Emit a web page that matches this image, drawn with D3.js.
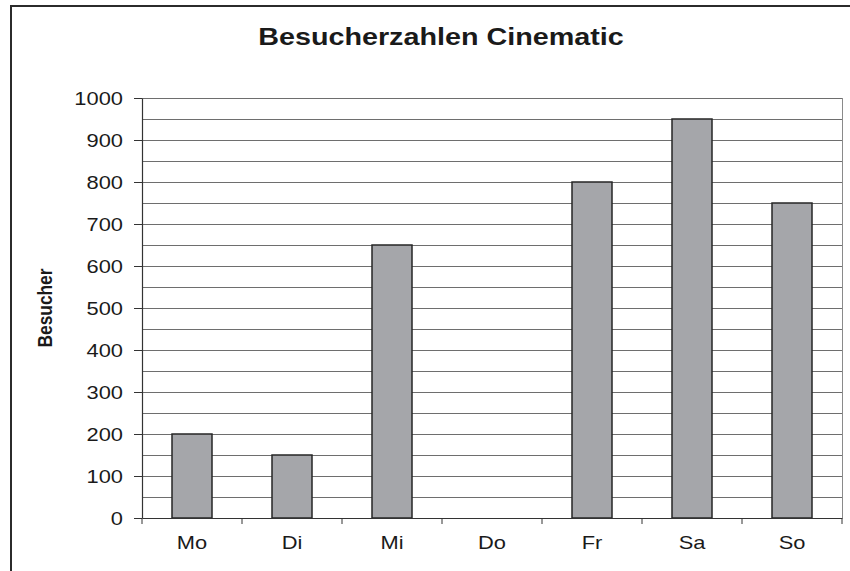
<!DOCTYPE html>
<html lang="de">
<head>
<meta charset="utf-8">
<title>Besucherzahlen Cinematic</title>
<script src="https://cdn.jsdelivr.net/npm/d3@7/dist/d3.min.js"></script>
<style>
    body { margin: 0; background: #fff; }
    svg text { font-family: "Liberation Sans", Arial, sans-serif; fill: #1a1a1a; }
</style>
</head>
<body>
<div id="chart"></div>
<script>
// Daten
var tage = ["Mo", "Di", "Mi", "Do", "Fr", "Sa", "So"];
var besucher = [200, 150, 650, 0, 800, 950, 750];
var yTicks = [0, 100, 200, 300, 400, 500, 600, 700, 800, 900, 1000];
var gridWerte = [50, 100, 150, 200, 250, 300, 350, 400, 450, 500, 550, 600, 650, 700, 750, 800, 850, 900, 950, 1000];

var W = 850, H = 571;
var margin = {top: 98, left: 142, right: 8, bottom: 53};
var width = W - margin.left - margin.right,
    height = H - margin.top - margin.bottom;
var sx = 1.25; // Bild ist horizontal gestreckt

var svg = d3.select("#chart").append("svg")
    .attr("width", W)
    .attr("height", H);

// Rahmen
svg.append("rect")
    .attr("x", 11).attr("y", 6)
    .attr("width", 900).attr("height", 600)
    .attr("fill", "none")
    .attr("stroke", "#2b2b2b")
    .attr("stroke-width", 2);

// Titel
svg.append("text")
    .attr("transform", "translate(441,45) scale(" + sx + ",1)")
    .attr("text-anchor", "middle")
    .style("font-size", "23px")
    .style("font-weight", "bold")
    .text("Besucherzahlen Cinematic");

// Achsentitel
svg.append("text")
    .attr("transform", "translate(52,308) scale(" + sx + ",1) rotate(-90)")
    .attr("text-anchor", "middle")
    .attr("textLength", 79)
    .attr("lengthAdjust", "spacingAndGlyphs")
    .style("font-size", "16px")
    .style("font-weight", "bold")
    .text("Besucher");

var g = svg.append("g")
    .attr("transform", "translate(" + margin.left + "," + margin.top + ")");

var x = d3.scaleBand().domain(tage).range([0, width]).padding(0);
var y = d3.scaleLinear().domain([0, 1000]).range([height, 0]);

// Gitternetz
g.selectAll(".grid")
    .data(gridWerte)
    .enter().append("line")
    .attr("class", "grid")
    .attr("x1", 0).attr("x2", width)
    .attr("y1", function(d) { return Math.round(y(d)) + 0.5; })
    .attr("y2", function(d) { return Math.round(y(d)) + 0.5; })
    .attr("stroke", "#6e6e6e")
    .attr("stroke-width", 1);

// rechter Rand
g.append("line")
    .attr("x1", width + 0.5).attr("x2", width + 0.5)
    .attr("y1", y(1000)).attr("y2", y(0))
    .attr("stroke", "#8a8a8a");

// Balken
g.selectAll(".bar")
    .data(besucher)
    .enter().append("rect")
    .attr("class", "bar")
    .attr("x", function(d, i) { return x(tage[i]) + x.bandwidth() * 0.3; })
    .attr("width", x.bandwidth() * 0.4)
    .attr("y", function(d) { return y(d); })
    .attr("height", function(d) { return y(0) - y(d); })
    .attr("fill", "#a5a6aa")
    .attr("stroke", "#262626")
    .attr("stroke-width", 1.5)
    .style("display", function(d) { return d > 0 ? null : "none"; });

// y-Achse
var yAxis = g.append("g")
    .attr("class", "y-axis")
    .call(d3.axisLeft(y).tickValues(yTicks).tickFormat(d3.format("d")).tickSize(8).tickSizeOuter(0));
yAxis.select(".domain").attr("stroke", "#333").attr("stroke-width", 1.2);
yAxis.selectAll(".tick line").attr("stroke", "#333");
yAxis.selectAll(".tick text")
    .attr("x", -19 / sx)
    .attr("dy", "0.36em")
    .attr("transform", "scale(" + sx + ",1)")
    .style("font-size", "17.5px");

// x-Achse
var xAxis = g.append("g")
    .attr("class", "x-axis")
    .attr("transform", "translate(0," + height + ")")
    .call(d3.axisBottom(x).tickSize(0).tickSizeOuter(0));
xAxis.select(".domain").attr("stroke", "#333").attr("stroke-width", 1.2);
xAxis.selectAll(".tick text")
    .attr("y", 0)
    .attr("dy", 0)
    .attr("transform", "translate(0,31) scale(" + sx + ",1)")
    .style("font-size", "17.5px");

// Teilstriche zwischen Kategorien
g.selectAll(".xtick")
    .data(tage)
    .enter().append("line")
    .attr("class", "xtick")
    .attr("x1", function(d) { return x(d) + x.bandwidth(); })
    .attr("x2", function(d) { return x(d) + x.bandwidth(); })
    .attr("y1", height).attr("y2", height + 6)
    .attr("stroke", "#333");
g.append("line")
    .attr("x1", 0).attr("x2", 0)
    .attr("y1", height).attr("y2", height + 6)
    .attr("stroke", "#333");
</script>
</body>
</html>
